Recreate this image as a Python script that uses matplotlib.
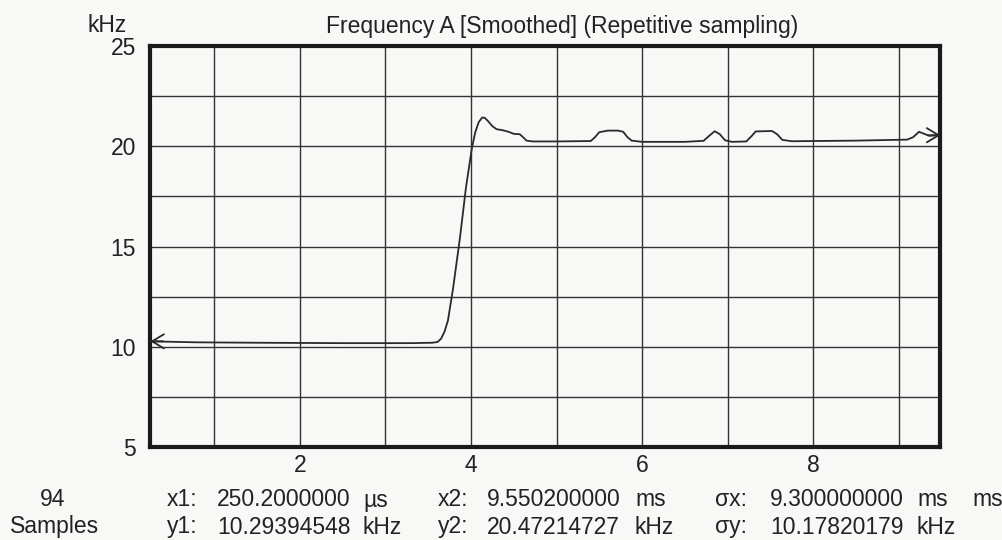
import numpy as np
import matplotlib.pyplot as plt
from matplotlib.ticker import MultipleLocator

# ----------- data -----------
t_ms = [0.25, 0.8, 1.5, 2.5, 3.3, 3.55, 3.61, 3.65, 3.69, 3.73, 3.79, 3.87, 3.94,
        4.01, 4.05, 4.09, 4.13, 4.16, 4.20, 4.25, 4.30, 4.37, 4.44, 4.50, 4.57,
        4.61, 4.65, 4.72, 5.0, 5.40, 5.45, 5.50, 5.60, 5.72, 5.78, 5.83, 5.88,
        6.0, 6.5, 6.72, 6.78, 6.85, 6.91, 6.97, 7.05, 7.22, 7.28, 7.33, 7.52,
        7.58, 7.64, 7.75, 8.5, 9.1, 9.17, 9.24, 9.30, 9.36, 9.46]
freq_khz = [10.27, 10.22, 10.2, 10.18, 10.18, 10.2, 10.24, 10.4, 10.75, 11.3,
            12.9, 15.4, 17.9, 19.9, 20.7, 21.2, 21.43, 21.42, 21.25, 21.0, 20.85,
            20.8, 20.72, 20.62, 20.6, 20.45, 20.28, 20.24, 20.24, 20.26, 20.45,
            20.7, 20.78, 20.78, 20.72, 20.45, 20.28, 20.22, 20.22, 20.27, 20.5,
            20.75, 20.6, 20.3, 20.22, 20.24, 20.5, 20.74, 20.76, 20.6, 20.32,
            20.25, 20.28, 20.33, 20.45, 20.72, 20.62, 20.52, 20.55]

title = "Frequency A [Smoothed] (Repetitive sampling)"
samples = "94"
row1 = [("x1:", 167), ("250.2000000", 217), ("µs", 363),
        ("x2:", 438), ("9.550200000", 487), ("ms", 635),
        ("σx:", 715), ("9.300000000", 770), ("ms", 917), ("ms", 972)]
row2 = [("y1:", 167), ("10.29394548", 217), ("kHz", 363),
        ("y2:", 438), ("20.47214727", 487), ("kHz", 635),
        ("σy:", 715), ("10.17820179", 770), ("kHz", 917)]

plt.rcParams['font.family'] = ['Liberation Sans', 'DejaVu Sans']
ink = '#222222'
W, H = 1003, 540

fig = plt.figure(figsize=(W / 100, H / 100), dpi=100, facecolor='#f8f8f7')
ax = fig.add_axes([150 / W, 1 - 447 / H, 790 / W, 401 / H])
ax.set_facecolor('#f8f8f7')

ax.plot(t_ms, freq_khz, color='#2a2a2a', lw=1.3, zorder=3)
# open arrow heads at both ends of the trace
arrow = dict(arrowstyle='->, head_length=0.5, head_width=0.3', lw=1.3,
             color='#2a2a2a', shrinkA=0, shrinkB=0, mutation_scale=17)
ax.annotate('', xy=(t_ms[0], freq_khz[0]), xytext=(t_ms[0] + 0.15, freq_khz[0]),
            arrowprops=arrow)
ax.annotate('', xy=(t_ms[-1] + 0.03, freq_khz[-1]), xytext=(t_ms[-1] - 0.12, freq_khz[-1]),
            arrowprops=arrow)

ax.set_xlim(0.246, 9.485)
ax.set_ylim(5, 25)
ax.xaxis.set_major_locator(MultipleLocator(2))
ax.xaxis.set_minor_locator(MultipleLocator(1))
ax.yaxis.set_major_locator(MultipleLocator(5))
ax.yaxis.set_minor_locator(MultipleLocator(2.5))
ax.grid(which='both', color='#333333', lw=1.0)
ax.set_axisbelow(True)
ax.tick_params(which='both', length=0, labelsize=16.5, labelcolor=ink)
ax.tick_params(axis='x', pad=5)
ax.tick_params(axis='y', pad=10)
for s in ax.spines.values():
    s.set_linewidth(3)
    s.set_color('#1a1a1a')

fs = 16.5
fig.text(562 / W, 1 - 27 / H, title, ha='center', va='center', fontsize=fs, color=ink)
fig.text(107 / W, 1 - 25 / H, "kHz", ha='center', va='center', fontsize=fs, color=ink)
fig.text(53 / W, 1 - 500 / H, samples, ha='center', va='center', fontsize=fs, color=ink)
fig.text(55 / W, 1 - 527 / H, "Samples", ha='center', va='center', fontsize=fs, color=ink)
for txt, px in row1:
    fig.text(px / W, 1 - 500 / H, txt, ha='left', va='center', fontsize=fs, color=ink)
for txt, px in row2:
    fig.text(px / W, 1 - 527 / H, txt, ha='left', va='center', fontsize=fs, color=ink)

fig.savefig('out.png', dpi=100, facecolor=fig.get_facecolor())
